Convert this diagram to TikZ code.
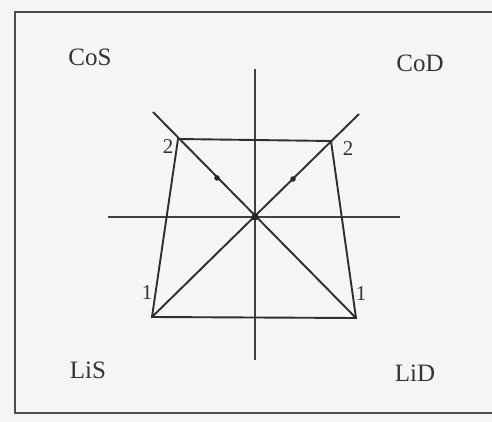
\documentclass[tikz,border=0pt]{standalone}
\usepackage{fontspec}
\setmainfont{Liberation Serif}
\tikzset{
  asse/.style      = {line width=1.8pt, draw=black!75},
  lato/.style      = {line width=1.9pt, draw=black!82, line join=miter},
  punto/.style     = {circle, fill=black!85, inner sep=0pt, minimum size=5.5pt},
  quadrante/.style = {font=\fontsize{25}{27}\selectfont, text=black!80, inner sep=0pt},
  peso/.style      = {font=\fontsize{21}{23}\selectfont, text=black!80, inner sep=0pt}
}

\begin{document}
\begin{tikzpicture}[x=1pt, y=-1pt]
  \useasboundingbox (0,0) rectangle (492,422);
  \clip (0,0) rectangle (492,422);
  \fill[black!4] (0,0) rectangle (492,422);

  % cornice (il lato destro esce dalla figura)
  \draw[line width=2pt, black!70] (500,12) -- (15,12) -- (15,413) -- (500,413);

  % assi
  \coordinate (alto)   at (255,69);
  \coordinate (basso)  at (255,360);
  \coordinate (sx)     at (108,217);
  \coordinate (dx)     at (400,217);
  \draw[asse] (alto) -- (basso);
  \draw[asse] (sx) -- (dx);

  % trapezio
  \coordinate (O)  at (255,217);
  \coordinate (ts) at (178,139);
  \coordinate (td) at (331,141);
  \coordinate (bs) at (152,317);
  \coordinate (bd) at (356,318);
  \coordinate (es) at (153,112);
  \coordinate (ed) at (359,114);
  \draw[lato] (ts) -- (td) -- (bd) -- (bs) -- cycle;
  \draw[lato] (bs) -- (ed);
  \draw[lato] (bd) -- (es);

  % punti
  \node[punto, minimum size=7pt] (centro) at (O) {};
  \node[punto] (ps) at (217,178) {};
  \node[punto] (pd) at (293,179) {};

  % quadranti
  \node[quadrante] (cos) at (90,57)   {CoS};
  \node[quadrante] (cod) at (420,63)  {CoD};
  \node[quadrante] (lis) at (88,370)  {LiS};
  \node[quadrante] (lid) at (415,373) {LiD};

  % pesi
  \node[peso] (ds) at (168,147) {2};
  \node[peso] (dd) at (348,149) {2};
  \node[peso] (us) at (147,293) {1};
  \node[peso] (ud) at (361,294) {1};
\end{tikzpicture}
\end{document}
